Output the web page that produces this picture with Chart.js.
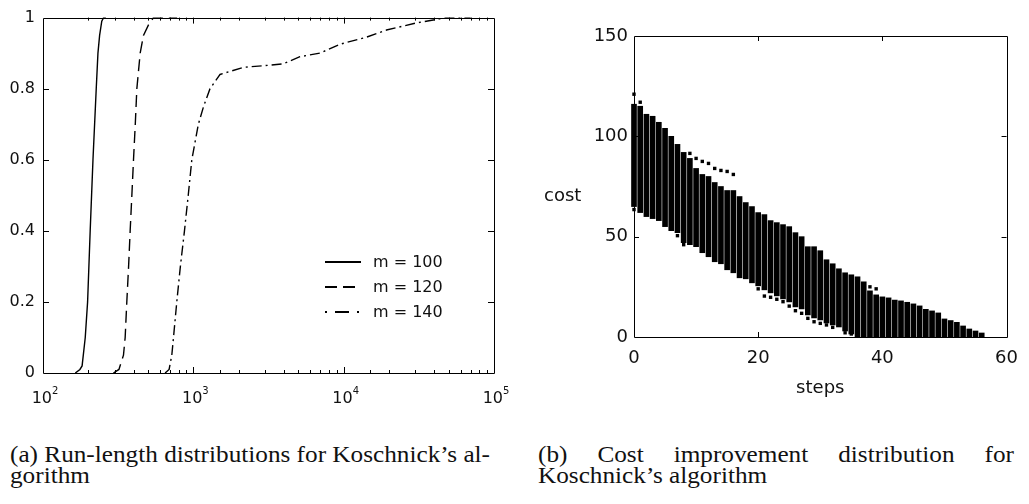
<!DOCTYPE html>
<html lang="en">
<head>
  <meta charset="UTF-8">
  <title>Koschnick's algorithm</title>
  <script src="https://cdn.jsdelivr.net/npm/chart.js"></script>
  <style>
    body { margin: 0; width: 1029px; height: 504px; background: #fff; position: relative; overflow: hidden; }
    .panel { position: absolute; top: 0; height: 420px; }
    #leftPanel { left: 0; width: 520px; }
    #rightPanel { left: 520px; width: 509px; }
    #costLabel { position: absolute; left: 544px; top: 184px; font-family: "DejaVu Sans", sans-serif; font-size: 18px; color: #111; }
    .caption { position: absolute; top: 444px; font-family: "Liberation Serif", "Times New Roman", serif; font-size: 22.5px; line-height: 21px; color: #111; transform-origin: 0 0; }
    .caption .full { text-align: justify; text-align-last: justify; }
    .caption .line { white-space: nowrap; }
  </style>
</head>
<body>
  <div class="panel" id="leftPanel"><canvas id="rtdChart" width="520" height="420"></canvas></div>
  <div class="panel" id="rightPanel"><canvas id="costChart" width="509" height="420"></canvas></div>
  <div id="costLabel">cost</div>

  <div class="caption" id="capA" style="left:10px" data-width="480">
    <div class="full">(a) Run-length distributions for Koschnick’s al-</div>
    <div class="line">gorithm</div>
  </div>
  <div class="caption" id="capB" style="left:538px" data-width="476">
    <div class="full">(b) Cost improvement distribution for</div>
    <div class="line">Koschnick’s algorithm</div>
  </div>

  <script>
    // (a) run-length distributions, x = run length (log scale), y = P(solve)
    const rtdX100 = [164, 176, 182, 191, 198, 206, 215, 226, 232, 238, 246, 253, 262];
    const rtdY100 = [0, 0.01, 0.02, 0.1, 0.2, 0.4, 0.6, 0.8, 0.9, 0.95, 0.99, 1, 1];
    const rtdX120 = [294, 320, 343, 352, 361, 371, 380, 390, 400, 411, 421, 443, 466, 504, 543, 620, 780];
    const rtdY120 = [0, 0.01, 0.05, 0.1, 0.2, 0.3, 0.4, 0.5, 0.6, 0.7, 0.8, 0.9, 0.95, 0.98, 1, 1, 1];
    const rtdX140 = [649, 690, 719, 738, 776, 820, 873, 925, 977, 1080, 1170, 1291, 1506, 2153, 3000, 3963, 5117, 6950, 9440, 14190, 19270, 30470, 48200, 70000];
    const rtdY140 = [0, 0.01, 0.05, 0.1, 0.2, 0.3, 0.4, 0.5, 0.6, 0.7, 0.75, 0.8, 0.84, 0.86, 0.865, 0.87, 0.89, 0.9, 0.925, 0.945, 0.965, 0.985, 1, 1];
    const rtdLabels = ['m = 100', 'm = 120', 'm = 140'];
    const rtdDashes = [[], [12, 6], [10, 4, 2, 4]];
    const rtdExponents = [2, 3, 4, 5];

    // (b) cost per step: range of costs seen at each step, plus stray points
    const steps = [0, 1, 2, 3, 4, 5, 6, 7, 8, 9, 10, 11, 12, 13, 14, 15, 16, 17, 18, 19,
                   20, 21, 22, 23, 24, 25, 26, 27, 28, 29, 30, 31, 32, 33, 34, 35, 36, 37, 38, 39,
                   40, 41, 42, 43, 44, 45, 46, 47, 48, 49, 50, 51, 52, 53, 54, 55, 56];
    const costLow = [65, 62, 60, 59, 58, 55, 53, 52, 47, 46, 45, 42, 40, 37.5, 36.5, 33.5, 32, 29.5, 29, 27,
                     25.5, 23.5, 22, 20.5, 19, 17.5, 15, 14, 11, 9.5, 8.5, 7, 6, 5, 3, 1.5, 0, 0, 0, 0,
                     0, 0, 0, 0, 0, 0, 0, 0, 0, 0, 0, 0, 0, 0, 0, 0, 0];
    const costHigh = [116, 115, 111, 110, 107, 104, 100, 96, 92, 89, 84, 81, 80, 77, 75, 73, 73, 70, 67, 65,
                      62, 61, 58, 57, 56, 55, 52, 50, 45, 45, 43, 38.5, 36.5, 34, 32, 31, 30, 27.5, 23, 21,
                      20, 19.5, 18.4, 18, 17.3, 16.5, 15.5, 13.8, 13, 12, 9, 8.2, 7.3, 5.5, 4, 3, 2];
    const strayStep = [0, 0, 1, 9, 10, 11, 12, 13, 14, 15, 16, 7, 8, 20, 21, 22, 23, 24, 25, 26, 27, 28, 29, 30, 31, 32, 34, 35, 38, 39, 55, 56];
    const strayCost = [121, 63.5, 117, 91.5, 89, 87.5, 86.5, 84, 83, 82.5, 81, 50.5, 46, 24, 20.4, 19.8, 18.8, 17.6, 15.4, 13.1, 11.8, 9.3, 7.6, 6.8, 6, 4.8, 2.1, 1.5, 25, 24, 1.5, 1];

    Chart.defaults.font.family = '"DejaVu Sans", sans-serif';
    Chart.defaults.color = '#111';

    const toPoints = (xs, ys) => xs.map((x, i) => ({ x: x, y: ys[i] }));

    // box round the plot with inward ticks on all four sides
    function makeBox(majorLen, minorLen, isMajorX) {
      return {
        id: 'box',
        afterDraw(chart) {
          const { ctx, chartArea: a } = chart;
          const xs = chart.scales.x, ys = chart.scales.y;
          ctx.save();
          ctx.strokeStyle = '#000';
          ctx.lineWidth = 1;
          ctx.beginPath();
          ctx.rect(Math.round(a.left) + 0.5, Math.round(a.top) + 0.5, Math.round(a.width), Math.round(a.height));
          xs.ticks.forEach(t => {
            if (t.value <= xs.min || t.value >= xs.max) return;
            const px = Math.round(xs.getPixelForValue(t.value)) + 0.5;
            const len = isMajorX(t.value) ? majorLen : minorLen;
            ctx.moveTo(px, a.bottom); ctx.lineTo(px, a.bottom - len);
            ctx.moveTo(px, a.top); ctx.lineTo(px, a.top + len);
          });
          ys.ticks.forEach(t => {
            if (t.value <= ys.min || t.value >= ys.max) return;
            const py = Math.round(ys.getPixelForValue(t.value)) + 0.5;
            ctx.moveTo(a.left, py); ctx.lineTo(a.left + majorLen, py);
            ctx.moveTo(a.right, py); ctx.lineTo(a.right - majorLen, py);
          });
          ctx.stroke();
          ctx.restore();
        }
      };
    }

    // 10^n labels and the legend for the left plot
    const rtdDecor = {
      id: 'rtdDecor',
      afterDraw(chart) {
        const { ctx, chartArea: a } = chart;
        const xs = chart.scales.x;
        ctx.save();
        ctx.fillStyle = '#111';
        ctx.textBaseline = 'alphabetic';
        rtdExponents.forEach(e => {
          const px = xs.getPixelForValue(Math.pow(10, e));
          ctx.font = '16px "DejaVu Sans"';
          const w1 = ctx.measureText('10').width;
          ctx.font = '10px "DejaVu Sans"';
          const w2 = ctx.measureText(String(e)).width;
          const x0 = px - (w1 + w2) / 2 + 2;
          ctx.font = '16px "DejaVu Sans"';
          ctx.fillText('10', x0, a.bottom + 30);
          ctx.font = '10px "DejaVu Sans"';
          ctx.fillText(String(e), x0 + w1, a.bottom + 21);
        });

        const rowY = [262, 287, 312];
        ctx.strokeStyle = '#000';
        ctx.lineWidth = 2;
        ctx.font = '16px "DejaVu Sans"';
        ctx.textBaseline = 'middle';
        rtdLabels.forEach((lab, i) => {
          ctx.beginPath();
          ctx.setLineDash(i === 2 ? [2, 8, 14, 8] : rtdDashes[i]);
          ctx.moveTo(a.left + 282, rowY[i]);
          ctx.lineTo(a.left + 318, rowY[i]);
          ctx.stroke();
          ctx.fillText(lab, a.left + 330, rowY[i] + 1);
        });
        ctx.restore();
      }
    };

    const isDecade = v => Math.abs(Math.log10(v) - Math.round(Math.log10(v))) < 1e-9;

    new Chart(document.getElementById('rtdChart'), {
      type: 'line',
      data: {
        datasets: [rtdX100, rtdX120, rtdX140].map((xs, i) => ({
          label: rtdLabels[i],
          data: toPoints(xs, [rtdY100, rtdY120, rtdY140][i]),
          borderColor: '#000',
          borderWidth: 1.4,
          borderDash: rtdDashes[i],
          pointRadius: 0,
          fill: false,
          tension: 0
        }))
      },
      options: {
        responsive: false,
        animation: false,
        events: [],
        layout: { padding: { top: 17, right: 26, left: 0, bottom: 0 } },
        plugins: { legend: { display: false }, tooltip: { enabled: false } },
        scales: {
          x: {
            type: 'logarithmic', min: 100, max: 100000,
            grid: { display: false, drawTicks: false }, border: { display: false },
            ticks: { display: false, autoSkip: false },
            afterFit: s => { s.height = 47; }
          },
          y: {
            min: 0, max: 1,
            grid: { display: false, drawTicks: false }, border: { display: false },
            ticks: { stepSize: 0.2, padding: 8, font: { size: 16 }, callback: v => String(Math.round(v * 10) / 10) },
            afterFit: s => { s.width = 43; }
          }
        }
      },
      plugins: [makeBox(6, 3, isDecade), rtdDecor]
    });

    new Chart(document.getElementById('costChart'), {
      type: 'bar',
      data: {
        datasets: [
          {
            type: 'bar',
            data: steps.map((s, i) => ({ x: s, y: [costLow[i], costHigh[i]] })),
            backgroundColor: '#000',
            borderWidth: 0,
            barThickness: 5,
            clip: false
          },
          {
            type: 'scatter',
            data: toPoints(strayStep, strayCost),
            pointStyle: 'rect',
            pointRadius: 2.4,
            backgroundColor: '#000',
            borderWidth: 0,
            clip: false
          }
        ]
      },
      options: {
        responsive: false,
        animation: false,
        events: [],
        layout: { padding: { top: 36, right: 15, left: 0, bottom: 0 } },
        plugins: { legend: { display: false }, tooltip: { enabled: false } },
        scales: {
          x: {
            type: 'linear', min: 0, max: 60, offset: false,
            grid: { display: false, drawTicks: false }, border: { display: false },
            ticks: { stepSize: 20, padding: 11, font: { size: 18 } },
            title: { display: true, text: 'steps', font: { size: 18 }, padding: { top: 0, bottom: 21 } },
            afterFit: s => { s.height = 83; }
          },
          y: {
            min: 0, max: 150,
            grid: { display: false, drawTicks: false }, border: { display: false },
            ticks: { stepSize: 50, padding: 6, font: { size: 18 } },
            afterFit: s => { s.width = 114; }
          }
        }
      },
      plugins: [makeBox(5, 5, () => true)]
    });

    // captions: squeeze/stretch to the column width like the typeset original
    const mctx = document.createElement('canvas').getContext('2d');
    mctx.font = '22.5px "Liberation Serif"';
    const stretch = 480 / mctx.measureText('(a) Run-length distributions for Koschnick’s al-').width;
    document.querySelectorAll('.caption').forEach(c => {
      c.style.transform = `scaleX(${stretch})`;
      c.style.width = (Number(c.dataset.width) / stretch) + 'px';
    });
  </script>
</body>
</html>
